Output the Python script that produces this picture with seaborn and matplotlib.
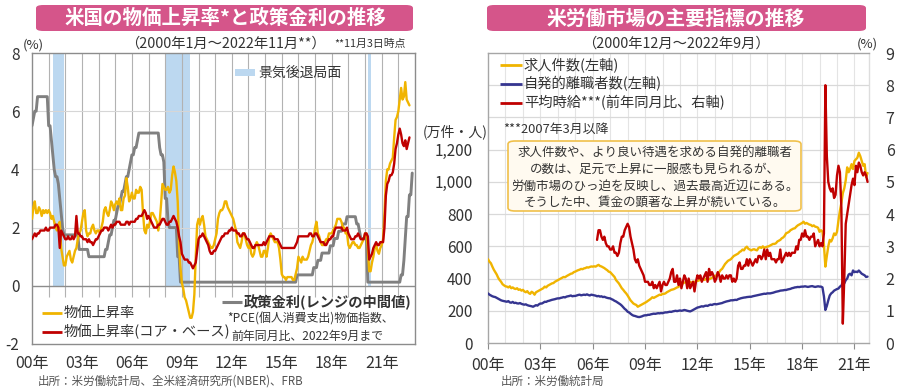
import numpy as np
import pandas as pd
import matplotlib
matplotlib.use("Agg")
import matplotlib.pyplot as plt
import seaborn as sns
from matplotlib.lines import Line2D
from matplotlib.patches import FancyBboxPatch, Rectangle

# ---------------- data: left panel (monthly, Jan 2000 start) ----------------
pce_headline = [
    2.3, 2.7, 2.9, 2.5, 2.5, 2.7, 2.6, 2.4, 2.6, 2.5, 2.6, 2.5,
    2.6, 2.5, 2.3, 2.4, 2.2, 2.0, 1.9, 2.1, 2.2, 1.3, 1.0, 0.7,
    0.7, 1.0, 1.1, 1.2, 0.9, 0.8, 1.0, 1.2, 1.3, 1.6, 1.8, 1.9,
    2.2, 2.5, 2.6, 1.9, 1.7, 1.8, 1.8, 2.0, 2.1, 1.9, 1.8, 1.9,
    1.9, 1.8, 2.0, 2.2, 2.6, 2.7, 2.5, 2.4, 2.6, 2.9, 2.8, 2.6,
    2.8, 2.9, 2.8, 3.0, 2.6, 2.6, 3.0, 3.1, 3.7, 3.4, 2.9, 3.0,
    3.2, 3.0, 3.0, 3.3, 3.2, 3.2, 3.4, 3.3, 2.5, 1.9, 1.8, 2.1,
    2.0, 2.2, 2.5, 2.5, 2.4, 2.3, 2.2, 1.9, 2.2, 2.8, 3.5, 3.4,
    3.3, 3.3, 3.4, 3.2, 3.3, 3.8, 4.1, 3.9, 3.6, 2.9, 1.4, 0.6,
    0.1, -0.1, -0.4, -0.5, -0.7, -0.9, -1.1, -1.1, -0.9, -0.3, 1.0, 2.1,
    2.3, 2.1, 2.3, 2.4, 2.1, 1.7, 1.6, 1.5, 1.4, 1.3, 1.3, 1.4,
    1.6, 1.8, 2.3, 2.5, 2.6, 2.6, 2.7, 2.9, 2.9, 2.7, 2.6, 2.5,
    2.4, 2.3, 2.1, 1.9, 1.5, 1.4, 1.3, 1.5, 1.8, 1.8, 1.6, 1.4,
    1.3, 1.4, 1.1, 1.0, 1.1, 1.4, 1.5, 1.4, 1.2, 1.0, 1.0, 1.2,
    1.2, 1.0, 1.3, 1.7, 1.8, 1.7, 1.6, 1.5, 1.5, 1.5, 1.3, 0.9,
    0.4, 0.3, 0.3, 0.2, 0.3, 0.3, 0.3, 0.3, 0.2, 0.2, 0.4, 0.6,
    1.0, 0.9, 0.8, 1.0, 0.9, 0.9, 0.9, 1.0, 1.2, 1.4, 1.5, 1.7,
    2.0, 2.2, 1.8, 1.7, 1.5, 1.4, 1.4, 1.5, 1.6, 1.6, 1.8, 1.8,
    1.8, 1.9, 2.0, 2.1, 2.3, 2.3, 2.3, 2.2, 2.0, 2.0, 1.8, 1.8,
    1.4, 1.3, 1.4, 1.5, 1.5, 1.4, 1.4, 1.3, 1.3, 1.4, 1.5, 1.6,
    1.8, 1.8, 1.3, 0.5, 0.5, 0.8, 1.0, 1.3, 1.4, 1.2, 1.1, 1.3,
    1.4, 1.6, 2.5, 3.6, 4.0, 4.0, 4.2, 4.3, 4.4, 5.1, 5.7, 5.8,
    6.0, 6.4, 6.8, 6.4, 6.5, 7.0, 6.4, 6.3, 6.2,
]
pce_core = [
    1.6, 1.7, 1.8, 1.7, 1.8, 1.8, 1.9, 1.9, 1.9, 1.9, 2.0, 1.9,
    1.9, 2.0, 2.0, 2.0, 2.0, 2.1, 2.1, 2.0, 1.3, 1.9, 1.8, 1.7,
    1.6, 1.6, 1.7, 1.6, 1.6, 1.7, 1.6, 1.7, 2.4, 1.8, 1.8, 1.7,
    1.7, 1.6, 1.6, 1.6, 1.5, 1.6, 1.5, 1.5, 1.4, 1.5, 1.6, 1.6,
    1.7, 1.8, 1.9, 1.9, 2.0, 2.0, 2.0, 1.9, 2.0, 2.1, 2.0, 2.1,
    2.1, 2.2, 2.2, 2.2, 2.1, 2.1, 2.1, 2.1, 2.2, 2.2, 2.1, 2.2,
    2.2, 2.2, 2.2, 2.3, 2.3, 2.4, 2.4, 2.4, 2.5, 2.6, 2.5, 2.3,
    2.4, 2.3, 2.2, 2.1, 2.0, 2.0, 2.0, 2.1, 2.1, 2.2, 2.3, 2.3,
    2.2, 2.1, 2.1, 2.2, 2.2, 2.3, 2.4, 2.3, 2.2, 2.0, 1.7, 1.5,
    1.1, 1.0, 0.9, 0.9, 0.9, 0.8, 0.8, 0.7, 0.6, 0.7, 0.8, 1.2,
    1.6, 1.7, 1.7, 1.8, 1.7, 1.6, 1.5, 1.4, 1.2, 1.1, 1.1, 1.2,
    1.2, 1.3, 1.4, 1.5, 1.6, 1.7, 1.7, 1.8, 1.8, 1.8, 1.9, 1.9,
    2.0, 1.9, 1.9, 1.9, 1.8, 1.8, 1.7, 1.7, 1.8, 1.8, 1.7, 1.6,
    1.6, 1.5, 1.4, 1.3, 1.3, 1.4, 1.4, 1.4, 1.4, 1.4, 1.4, 1.5,
    1.4, 1.5, 1.6, 1.7, 1.7, 1.7, 1.7, 1.6, 1.6, 1.6, 1.5, 1.4,
    1.3, 1.3, 1.3, 1.3, 1.3, 1.3, 1.3, 1.3, 1.3, 1.3, 1.4, 1.5,
    1.7, 1.7, 1.7, 1.7, 1.7, 1.7, 1.7, 1.7, 1.8, 1.8, 1.7, 1.7,
    1.8, 1.8, 1.7, 1.6, 1.5, 1.5, 1.5, 1.4, 1.4, 1.5, 1.6, 1.6,
    1.7, 1.7, 1.9, 2.0, 2.0, 2.0, 2.0, 2.0, 1.9, 1.9, 1.9, 2.0,
    1.8, 1.7, 1.6, 1.6, 1.6, 1.7, 1.7, 1.8, 1.7, 1.6, 1.6, 1.6,
    1.8, 1.8, 1.7, 0.9, 1.0, 1.1, 1.3, 1.4, 1.5, 1.4, 1.4, 1.5,
    1.5, 1.5, 2.0, 3.1, 3.5, 3.6, 3.8, 3.8, 3.9, 4.2, 4.7, 4.9,
    5.2, 5.4, 5.2, 4.9, 4.8, 5.0, 4.7, 4.9, 5.1,
]
policy_rate = [
    5.5, 5.75, 6.0, 6.0, 6.5, 6.5, 6.5, 6.5, 6.5, 6.5, 6.5, 6.5,
    5.5, 5.5, 5.0, 4.5, 4.0, 3.75, 3.75, 3.5, 3.0, 2.5, 2.0, 1.75,
    1.75, 1.75, 1.75, 1.75, 1.75, 1.75, 1.75, 1.75, 1.75, 1.75, 1.25, 1.25,
    1.25, 1.25, 1.25, 1.25, 1.25, 1.0, 1.0, 1.0, 1.0, 1.0, 1.0, 1.0,
    1.0, 1.0, 1.0, 1.0, 1.0, 1.25, 1.25, 1.5, 1.75, 1.75, 2.0, 2.25,
    2.25, 2.5, 2.75, 2.75, 3.0, 3.25, 3.25, 3.5, 3.75, 3.75, 4.0, 4.25,
    4.5, 4.5, 4.75, 4.75, 5.0, 5.25, 5.25, 5.25, 5.25, 5.25, 5.25, 5.25,
    5.25, 5.25, 5.25, 5.25, 5.25, 5.25, 5.25, 5.25, 4.75, 4.5, 4.5, 4.25,
    3.0, 3.0, 2.25, 2.0, 2.0, 2.0, 2.0, 2.0, 2.0, 1.0, 1.0, 0.125,
    0.125, 0.125, 0.125, 0.125, 0.125, 0.125, 0.125, 0.125, 0.125, 0.125, 0.125, 0.125,
    0.125, 0.125, 0.125, 0.125, 0.125, 0.125, 0.125, 0.125, 0.125, 0.125, 0.125, 0.125,
    0.125, 0.125, 0.125, 0.125, 0.125, 0.125, 0.125, 0.125, 0.125, 0.125, 0.125, 0.125,
    0.125, 0.125, 0.125, 0.125, 0.125, 0.125, 0.125, 0.125, 0.125, 0.125, 0.125, 0.125,
    0.125, 0.125, 0.125, 0.125, 0.125, 0.125, 0.125, 0.125, 0.125, 0.125, 0.125, 0.125,
    0.125, 0.125, 0.125, 0.125, 0.125, 0.125, 0.125, 0.125, 0.125, 0.125, 0.125, 0.125,
    0.125, 0.125, 0.125, 0.125, 0.125, 0.125, 0.125, 0.125, 0.125, 0.125, 0.125, 0.375,
    0.375, 0.375, 0.375, 0.375, 0.375, 0.375, 0.375, 0.375, 0.375, 0.375, 0.375, 0.625,
    0.625, 0.625, 0.875, 0.875, 0.875, 1.125, 1.125, 1.125, 1.125, 1.125, 1.125, 1.375,
    1.375, 1.375, 1.625, 1.625, 1.625, 1.875, 1.875, 1.875, 2.125, 2.125, 2.125, 2.375,
    2.375, 2.375, 2.375, 2.375, 2.375, 2.375, 2.125, 2.125, 1.875, 1.625, 1.625, 1.625,
    1.625, 1.625, 0.125, 0.125, 0.125, 0.125, 0.125, 0.125, 0.125, 0.125, 0.125, 0.125,
    0.125, 0.125, 0.125, 0.125, 0.125, 0.125, 0.125, 0.125, 0.125, 0.125, 0.125, 0.125,
    0.125, 0.125, 0.375, 0.375, 0.875, 1.625, 2.375, 2.375, 3.125, 3.125, 3.875,
]
recession_start = [2001.25, 2008.0, 2020.167]
recession_end = [2001.917, 2009.5, 2020.333]
left_xticks = [2000, 2003, 2006, 2009, 2012, 2015, 2018, 2021]
left_xlabels = ["00年", "03年", "06年", "09年", "12年", "15年", "18年", "21年"]

# ---------------- data: right panel (monthly, Dec 2000 start) ----------------
job_openings = [
    520,
    505, 495, 474, 455, 440, 425, 405, 391, 380, 365, 358, 352,
    350, 345, 352, 340, 345, 338, 335, 340, 330, 333, 325, 330,
    320, 315, 322, 310, 305, 318, 312, 300, 315, 320, 325, 330,
    335, 340, 350, 345, 355, 360, 365, 370, 372, 380, 385, 390,
    395, 400, 405, 410, 408, 415, 420, 425, 430, 432, 440, 443,
    448, 452, 455, 460, 458, 463, 465, 470, 468, 472, 475, 474,
    476, 474, 480, 485, 478, 475, 470, 465, 458, 452, 443, 440,
    430, 420, 410, 391, 380, 370, 355, 340, 330, 318, 308, 295,
    280, 265, 255, 245, 240, 236, 225, 230, 235, 240, 245, 250,
    255, 262, 268, 275, 284, 280, 285, 290, 295, 300, 298, 305,
    305, 308, 315, 320, 325, 330, 332, 335, 340, 345, 348, 360,
    365, 370, 375, 378, 372, 375, 379, 375, 380, 378, 385, 385,
    388, 393, 390, 395, 392, 398, 400, 395, 400, 405, 410, 415,
    420, 430, 440, 453, 460, 475, 490, 500, 510, 515, 520, 530,
    540, 545, 550, 555, 565, 570, 580, 575, 590, 598, 585, 580,
    575, 580, 582, 578, 575, 590, 595, 590, 600, 590, 595, 598,
    600, 605, 610, 615, 615, 619, 630, 635, 640, 650, 655, 665,
    681, 685, 690, 700, 705, 710, 712, 722, 730, 735, 740, 745,
    753, 740, 745, 740, 735, 733, 725, 730, 722, 720, 715, 690,
    700, 691, 610, 474, 540, 600, 640, 630, 650, 680, 670, 690,
    760, 820, 870, 930, 960, 1010, 1090, 1060, 1080, 1110, 1080, 1130,
    1140, 1150, 1181, 1160, 1130, 1100, 1110, 1030, 1055,
]
quits = [
    308,
    300, 295, 290, 287, 285, 280, 275, 270, 265, 262, 260, 258,
    256, 260, 252, 250, 255, 248, 250, 246, 245, 248, 243, 240,
    238, 240, 235, 232, 230, 228, 225, 230, 235, 232, 240, 245,
    245, 250, 256, 255, 260, 262, 265, 268, 270, 272, 275, 277,
    277, 280, 282, 285, 283, 288, 290, 292, 295, 290, 292, 292,
    295, 298, 300, 296, 298, 300, 298, 302, 298, 295, 300, 298,
    296, 294, 290, 292, 288, 290, 285, 287, 283, 280, 278, 277,
    272, 268, 262, 258, 252, 246, 240, 232, 222, 212, 205, 194,
    190, 182, 175, 170, 168, 165, 162, 161, 163, 166, 170, 172,
    172, 175, 175, 178, 180, 182, 181, 183, 185, 184, 186, 185,
    188, 190, 190, 192, 194, 193, 196, 198, 200, 198, 200, 202,
    200, 202, 205, 203, 200, 198, 196, 200, 205, 210, 215, 220,
    222, 225, 228, 226, 230, 232, 230, 235, 238, 236, 240, 242,
    240, 242, 244, 246, 248, 252, 255, 258, 260, 262, 265, 265,
    266, 268, 267, 272, 275, 278, 280, 282, 283, 285, 286, 287,
    287, 290, 292, 294, 296, 298, 300, 302, 304, 306, 305, 308,
    308, 308, 310, 312, 315, 318, 320, 322, 325, 326, 327, 329,
    329, 332, 334, 336, 340, 342, 345, 346, 348, 347, 349, 350,
    350, 352, 350, 348, 350, 352, 353, 350, 348, 350, 352, 350,
    350, 345, 290, 205, 230, 265, 295, 308, 315, 325, 330, 335,
    338, 350, 355, 380, 370, 390, 400, 425, 430, 420, 450, 440,
    443, 440, 450, 440, 430, 425, 420, 410, 412,
]
wage_growth = [
    3.2, 3.5, 3.5, 3.3, 3.2, 3.3, 3.1, 3.0, 3.0, 2.9,
    2.9, 3.0, 2.8, 2.8, 2.7, 2.8, 3.1, 3.3, 3.3, 3.5, 3.6, 3.7,
    3.6, 3.3, 3.1, 2.9, 2.6, 2.5, 2.6, 2.4, 2.3, 2.2, 2.1, 1.9,
    1.9, 1.9, 1.8, 1.8, 1.9, 1.7, 1.8, 1.7, 1.8, 1.9, 1.6, 1.8,
    1.9, 1.8, 1.8, 1.9, 2.0, 2.2, 2.3, 1.9, 1.9, 2.1, 1.8, 2.0,
    1.7, 1.9, 2.1, 2.0, 1.7, 2.0, 1.7, 1.8, 1.9, 1.6, 1.9, 2.1,
    2.0, 2.1, 1.9, 2.0, 2.1, 2.2, 1.9, 2.3, 2.1, 2.2, 2.1, 1.9,
    2.0, 2.2, 2.1, 1.9, 2.1, 2.0, 2.0, 2.1, 2.0, 2.1, 2.1, 1.9,
    2.0, 1.9, 2.0, 2.4, 2.5, 2.3, 2.3, 2.4, 2.4, 2.6, 2.4, 2.6,
    2.5, 2.4, 2.5, 2.6, 2.5, 2.7, 2.7, 2.6, 2.7, 2.9, 2.6, 2.9,
    2.7, 2.8, 2.6, 2.6, 2.6, 2.5, 2.6, 2.6, 2.9, 2.5, 2.6, 2.7,
    2.8, 2.7, 2.8, 2.7, 2.8, 2.8, 2.8, 3.0, 2.9, 3.2, 3.2, 3.4,
    3.3, 3.5, 3.3, 3.3, 3.2, 3.3, 3.3, 3.4, 3.0, 3.1, 3.2, 3.0,
    3.1, 3.0, 3.4, 8.0, 5.8, 5.0, 4.8, 4.7, 4.8, 4.5, 4.6, 5.2,
    5.5, 5.3, 4.2, 0.6, 2.0, 3.7, 4.0, 4.3, 4.6, 4.9, 5.1, 4.9,
    5.5, 5.3, 5.6, 5.5, 5.3, 5.2, 5.3, 5.2, 5.0,
]
wage_start_month = 75          # Mar 2007, counted from Dec 2000
right_xlabels = ["00年", "03年", "06年", "09年", "12年", "15年", "18年", "21年"]
left_axis_ticks = [0, 200, 400, 600, 800, 1000, 1200]
right_axis_ticks = [0, 1, 2, 3, 4, 5, 6, 7, 8, 9]

# ---------------- styling ----------------
YEL = "#f0b400"
RED = "#c00000"
GRAY = "#808080"
NAVY = "#353590"
BLUE_SHADE = "#bcd8f0"
PINK = "#d5558a"
TXT = "#333333"

sns.set_theme(style="white")
plt.rcParams['font.family'] = ['Noto Sans CJK JP', 'DejaVu Sans']

fig = plt.figure(figsize=(9, 3.9), dpi=100)


def fx(x):
    return x / 900.0


def fy(y):
    return 1 - y / 390.0


def ftext(x, y, s, size, ha="left", va="center", color=TXT, weight="normal"):
    fig.text(fx(x), fy(y), s, fontsize=size, ha=ha, va=va, color=color, fontweight=weight)


def fline(x0, x1, y, color, lw):
    fig.add_artist(Line2D([fx(x0), fx(x1)], [fy(y), fy(y)], transform=fig.transFigure,
                          color=color, lw=lw, solid_capstyle="butt"))


# ================= LEFT PANEL =================
ax1 = fig.add_axes([fx(32), fy(344), fx(415) - fx(32), fy(53) - fy(344)])
n1 = len(pce_headline)
t1 = 2000 + np.arange(n1) / 12.0
t_pol = 2000 + np.arange(len(policy_rate)) / 12.0
df_left = pd.DataFrame({"t": t1, "pce": pce_headline, "core": pce_core})
df_pol = pd.DataFrame({"t": t_pol, "rate": policy_rate})

ax1.set_xlim(2000, 2023)
ax1.set_ylim(-2, 8)

for s, e in zip(recession_start, recession_end):
    ax1.axvspan(s, e, ymin=0.2, ymax=1.0, color=BLUE_SHADE, lw=0, zorder=0.5)
for yr in range(2001, 2023):
    ax1.vlines(yr, -0.38, 8, color="#b2b2b2", lw=0.8, zorder=0.6)
for yv in [2, 4, 6]:
    ax1.axhline(yv, color="#d6d6d6", lw=0.8, zorder=0.6)
ax1.axhline(0, color="#8c8c8c", lw=1.0, zorder=0.7)

sns.lineplot(data=df_pol, x="t", y="rate", ax=ax1, color=GRAY, lw=2.1, estimator=None, sort=False, zorder=3)
sns.lineplot(data=df_left, x="t", y="pce", ax=ax1, color=YEL, lw=1.7, estimator=None, sort=False, zorder=4)
sns.lineplot(data=df_left, x="t", y="core", ax=ax1, color=RED, lw=1.7, estimator=None, sort=False, zorder=5)

ax1.set_xlabel("")
ax1.set_ylabel("")
ax1.set_yticks([-2, 0, 2, 4, 6, 8])
ax1.set_yticklabels(["-2", "0", "2", "4", "6", "8"])
ax1.set_xticks(left_xticks)
ax1.set_xticklabels(left_xlabels)
ax1.tick_params(axis="y", length=0, pad=9, labelsize=11, labelcolor=TXT)
ax1.tick_params(axis="x", length=0, pad=8, labelsize=11.5, labelcolor=TXT)
for sp in ax1.spines.values():
    sp.set_color("#8c8c8c")
    sp.set_linewidth(1.0)

# left annotations
ftext(33, 45, "(%)", 9.5, ha="center")
ftext(225, 44, "（2000年1月～2022年11月**）", 10.3, ha="center")
ftext(334, 44, "**11月3日時点", 7.8)
fig.add_artist(Rectangle((fx(235), fy(76)), fx(20), fy(69) - fy(76), transform=fig.transFigure,
                         color=BLUE_SHADE, lw=0))
ftext(258, 73, "景気後退局面", 10)
fline(42, 62, 313, YEL, 2.0)
ftext(64, 313, "物価上昇率", 10.3)
fline(42, 62, 332, RED, 2.0)
ftext(64, 332, "物価上昇率(コア・ベース)", 10.3)
fline(222, 242, 302, GRAY, 2.2)
ftext(244, 302, "政策金利(レンジの中間値)", 10.3, weight="bold")
ftext(227, 319, "*PCE(個人消費支出)物価指数、", 8.6)
ftext(231, 336, "前年同月比、2022年9月まで", 8.6)
ftext(38, 381, "出所：米労働統計局、全米経済研究所(NBER)、FRB", 8.3, color="#555555")

# left title
fig.add_artist(FancyBboxPatch((fx(36), fy(31)), fx(413) - fx(36), fy(5) - fy(31),
                              boxstyle="round,pad=0,rounding_size=0.008",
                              transform=fig.transFigure, facecolor=PINK, edgecolor="none"))
ftext(225, 18.5, "米国の物価上昇率*と政策金利の推移", 14, ha="center", color="white", weight="bold")

# ================= RIGHT PANEL =================
ax2 = fig.add_axes([fx(488), fy(343), fx(869) - fx(488), fy(53) - fy(343)])
m2 = np.arange(len(job_openings))
df_right = pd.DataFrame({"m": m2, "jobs": job_openings, "quits": quits})
df_wage = pd.DataFrame({"m": wage_start_month + np.arange(len(wage_growth)), "wage": wage_growth})

ax2.set_xlim(0, 262)
ax2.set_ylim(0, 1800)
for mm in range(12, 262, 12):
    ax2.axvline(mm, color="#e4e4e4", lw=0.8, zorder=0.5)
for yv in range(200, 1800, 200):
    ax2.axhline(yv, color="#d9d9d9", lw=0.9, zorder=0.5)

sns.lineplot(data=df_right, x="m", y="jobs", ax=ax2, color=YEL, lw=1.7, estimator=None, sort=False, zorder=3)
sns.lineplot(data=df_right, x="m", y="quits", ax=ax2, color=NAVY, lw=1.7, estimator=None, sort=False, zorder=3)
ax2.set_xlabel("")
ax2.set_ylabel("")
ax2.set_yticks(left_axis_ticks)
ax2.set_yticklabels([f"{v:,}" for v in left_axis_ticks])
ax2.set_xticks(list(range(0, 262, 36)))
ax2.set_xticklabels(right_xlabels)
ax2.tick_params(axis="y", length=0, pad=11, labelsize=11, labelcolor=TXT)
ax2.tick_params(axis="x", length=4, width=0.8, color="#8c8c8c", pad=6, labelsize=11.5, labelcolor=TXT,
                bottom=True, direction="out")
for name, sp in ax2.spines.items():
    sp.set_color("#a6a6a6" if name != "right" else "#dddddd")
    sp.set_linewidth(1.0)

ax2r = ax2.twinx()
ax2r.set_ylim(0, 9)
sns.lineplot(data=df_wage, x="m", y="wage", ax=ax2r, color=RED, lw=1.7, estimator=None, sort=False, zorder=4)
ax2r.set_xlabel("")
ax2r.set_ylabel("")
ax2r.set_yticks(right_axis_ticks)
ax2r.set_yticklabels([str(v) for v in right_axis_ticks])
ax2r.tick_params(axis="y", length=0, pad=12, labelsize=11.5, labelcolor=TXT)
ax2r.grid(False)
for name, sp in ax2r.spines.items():
    sp.set_visible(False)
ax2r.set_xlim(0, 262)

# right annotations
ftext(676, 44, "（2000年12月～2022年9月）", 10.3, ha="center")
ftext(867, 44, "(%)", 9.5, ha="center")
ftext(455, 132, "(万件・人)", 10, ha="center")
fline(500, 522, 65, YEL, 2.0)
ftext(524, 65, "求人件数(左軸)", 10.3)
fline(500, 522, 84, NAVY, 2.0)
ftext(524, 84, "自発的離職者数(左軸)", 10.3)
fline(500, 522, 103, RED, 2.0)
ftext(524, 103, "平均時給***(前年同月比、右軸)", 10.3)
ftext(503, 129, "***2007年3月以降", 9.3)
fig.add_artist(FancyBboxPatch((fx(508), fy(211)), fx(801) - fx(508), fy(141) - fy(211),
                              boxstyle="round,pad=0,rounding_size=0.008",
                              transform=fig.transFigure, facecolor="#fffaf0",
                              edgecolor="#f0c04a", lw=1.2, zorder=5))
box_lines = [
    "求人件数や、より良い待遇を求める自発的離職者",
    "の数は、足元で上昇に一服感も見られるが、",
    "労働市場のひっ迫を反映し、過去最高近辺にある。",
    "そうした中、賃金の顕著な上昇が続いている。",
]
for i, s in enumerate(box_lines):
    fig.text(fx(655), fy(153 + i * 16.5), s, fontsize=9, ha="center", va="center", color=TXT, zorder=6)
ftext(501, 381, "出所：米労働統計局", 8.3, color="#555555")

fig.add_artist(FancyBboxPatch((fx(487), fy(31)), fx(866) - fx(487), fy(5) - fy(31),
                              boxstyle="round,pad=0,rounding_size=0.008",
                              transform=fig.transFigure, facecolor=PINK, edgecolor="none"))
ftext(676, 18.5, "米労働市場の主要指標の推移", 14.3, ha="center", color="white", weight="bold")

fig.savefig("out.png", dpi=100)
